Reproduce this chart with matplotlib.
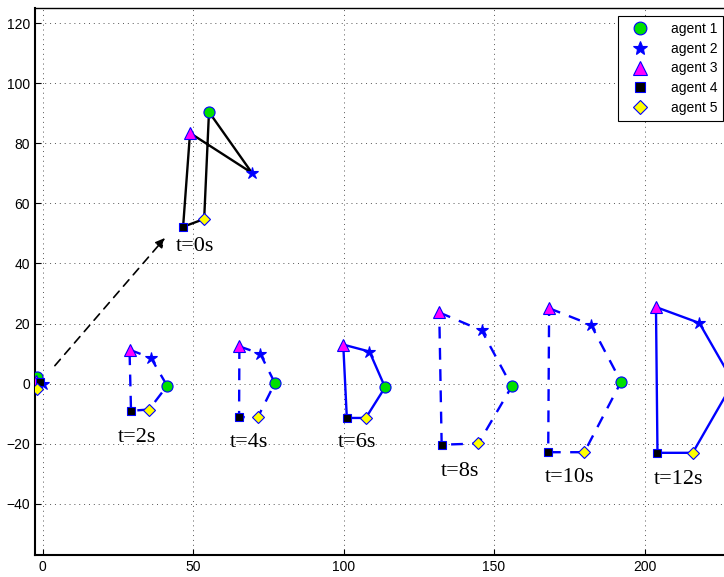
import numpy as np
import matplotlib
matplotlib.use("Agg")
import matplotlib.pyplot as plt

# formations: start cluster, t=0 (zoomed), t=2 ... t=12
labels = ['', 't=0s', 't=2s', 't=4s', 't=6s', 't=8s', 't=10s', 't=12s']
styles = [None, '-', '--', '--', '-', '--', '--', '-']
colors = [None, 'black', 'blue', 'blue', 'blue', 'blue', 'blue', 'blue']

agent1_x = [-1.8, 55.3, 41.4, 77.2, 113.8, 155.9, 192.2, 229.5]
agent1_y = [2.3, 90.4, -0.7, 0.2, -1.2, -0.9, 0.6, 0.5]
agent2_x = [0.2, 69.6, 36.0, 72.3, 108.6, 145.9, 182.2, 218.2]
agent2_y = [0.0, 70.1, 8.6, 10.0, 10.7, 17.7, 19.6, 20.2]
agent3_x = [-2.3, 49.0, 28.9, 65.4, 99.9, 131.8, 168.3, 203.8]
agent3_y = [1.0, 83.4, 11.3, 12.4, 13.0, 23.7, 25.1, 25.5]
agent4_x = [-0.8, 46.7, 29.4, 65.3, 101.1, 132.6, 168.0, 204.3]
agent4_y = [0.7, 52.2, -9.0, -11.1, -11.4, -20.3, -22.8, -23.0]
agent5_x = [-1.8, 53.7, 35.4, 71.5, 107.4, 144.8, 180.0, 216.0]
agent5_y = [-1.7, 54.8, -8.6, -11.2, -11.4, -19.9, -22.8, -23.0]

label_x = [0, 50.7, 31.4, 68.6, 104.4, 138.7, 175.2, 211.2]
label_y = [0, 45.6, -17.9, -19.6, -19.7, -29.1, -31.3, -31.9]

arrow_tail = (3.5, 5.3)
arrow_head = (41.3, 49.2)

agents_x = [agent1_x, agent2_x, agent3_x, agent4_x, agent5_x]
agents_y = [agent1_y, agent2_y, agent3_y, agent4_y, agent5_y]
names = ['agent 1', 'agent 2', 'agent 3', 'agent 4', 'agent 5']
markers = ['o', '*', '^', 's', 'D']
faces = ['#00e000', 'blue', 'magenta', 'black', 'yellow']
msizes = [8, 9, 8.5, 6, 6]
cycle = [2, 1, 0, 4, 3, 2]  # polygon order: agent3-2-1-5-4-3

fig = plt.figure(figsize=(7.24, 5.77), dpi=100)
ax = fig.add_axes([35 / 724, 22 / 577, 689 / 724, 547 / 577])

for k in range(len(labels)):
    if styles[k] is not None:
        px = [agents_x[i][k] for i in cycle]
        py = [agents_y[i][k] for i in cycle]
        ax.plot(px, py, linestyle=styles[k], color=colors[k], lw=1.7,
                dashes=(5, 4) if styles[k] == '--' else (None, None), zorder=2)

for i in range(5):
    ax.plot(agents_x[i], agents_y[i], linestyle='none', marker=markers[i],
            markerfacecolor=faces[i], markeredgecolor='blue', markersize=msizes[i],
            markeredgewidth=0.8, label=names[i], zorder=3)

for k in range(1, len(labels)):
    ax.text(label_x[k], label_y[k], labels[k], ha='center', va='center',
            fontsize=16, family='Liberation Serif')

ax.annotate('', xy=arrow_head, xytext=arrow_tail,
            arrowprops=dict(arrowstyle='-|>', color='black', lw=1.2,
                            linestyle=(0, (5, 4)), mutation_scale=14))

ax.set_xlim(-2.5, 226.4)
ax.set_ylim(-57, 125)
ax.set_xticks([0, 50, 100, 150, 200])
ax.set_yticks([-40, -20, 0, 20, 40, 60, 80, 100, 120])
ax.tick_params(direction='in', labelsize=10, length=4)
for lab in ax.get_xticklabels() + ax.get_yticklabels():
    lab.set_family('Liberation Sans')
ax.grid(True, linestyle=(0, (1, 4)), color='#555555', lw=0.7)
ax.spines['right'].set_visible(False)
ax.spines['left'].set_linewidth(1.5)
ax.spines['bottom'].set_linewidth(1.5)
ax.spines['top'].set_linewidth(1.0)

leg = ax.legend(loc='upper right', bbox_to_anchor=(0.9985, 0.985),
                numpoints=1, handlelength=2.4, borderaxespad=0,
                fancybox=False, edgecolor='black', framealpha=1,
                labelspacing=0.42, markerscale=1.15,
                handletextpad=1.0, borderpad=0.4,
                prop={'family': 'Liberation Sans', 'size': 10})
leg.get_frame().set_linewidth(0.8)

fig.savefig('out.png', dpi=100)
